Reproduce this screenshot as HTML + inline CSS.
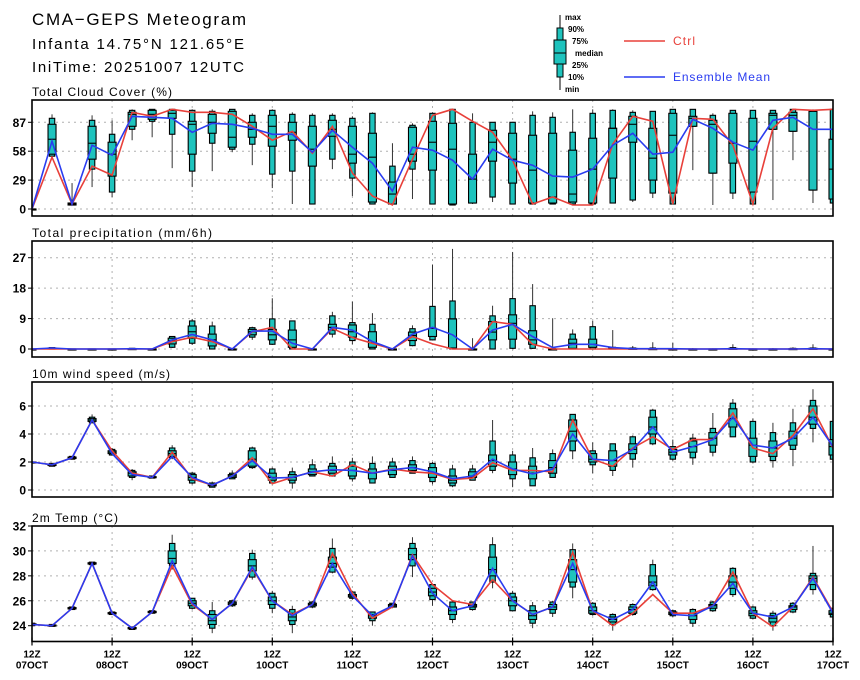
<!DOCTYPE html>
<html><head><meta charset="utf-8">
<style>
html,body{margin:0;padding:0;background:#fff;}
svg{display:block;font-family:"Liberation Sans",sans-serif;}
</style></head>
<body>
<svg id="chart" width="860" height="680" viewBox="0 0 860 680" xmlns="http://www.w3.org/2000/svg">
<g>
<text x="32" y="25" font-size="17" fill="#000" textLength="214" lengthAdjust="spacing">CMA−GEPS Meteogram</text>
<text x="32" y="49" font-size="15" fill="#000" textLength="212" lengthAdjust="spacing">Infanta 14.75°N 121.65°E</text>
<text x="32" y="72" font-size="15" fill="#000" textLength="212" lengthAdjust="spacing">IniTime: 20251007 12UTC</text>
</g>
<g font-size="8" font-weight="bold" fill="#000">
<line x1="560" y1="15" x2="560" y2="90" stroke="#000" stroke-width="1"/>
<rect x="557" y="28" width="6" height="49" fill="#1ec3bd" stroke="#000" stroke-width="1"/>
<rect x="554" y="40" width="12" height="24" fill="#1ec3bd" stroke="#000" stroke-width="1"/>
<line x1="554" y1="53" x2="566" y2="53" stroke="#000"/>
<text x="565" y="20">max</text><text x="568" y="32">90%</text><text x="572" y="44">75%</text>
<text x="575" y="56">median</text><text x="572" y="68">25%</text><text x="568" y="80">10%</text><text x="565" y="92">min</text>
</g>
<g font-size="12">
<line x1="624" y1="41" x2="665" y2="41" stroke="#e8403a" stroke-width="1.5"/>
<text x="673" y="45" fill="#e8403a" textLength="22" lengthAdjust="spacing">Ctrl</text>
<line x1="624" y1="77" x2="665" y2="77" stroke="#2a3cf0" stroke-width="1.5"/>
<text x="673" y="81" fill="#2a3cf0" textLength="97" lengthAdjust="spacing">Ensemble Mean</text>
</g>
</svg>
<script>
const days = ["07OCT","08OCT","09OCT","10OCT","11OCT","12OCT","13OCT","14OCT","15OCT","16OCT","17OCT"];

const cloudTicks = [0,29,58,87];
const cloudCtrl = [0,52,5,43,34,97,93,100,97,97,95,83,69,78,56,83,36,13,4,50,94,100,88,77,49,5,12,4,4,65,93,88,5,91,90,64,5,81,100,99,100];
const cloudMean = [0,68,5,64,54,93,92,91,77,86,85,81,75,75,57,79,62,46,18,62,59,49,30,60,49,44,33,32,40,64,76,55,57,90,81,67,59,89,92,80,80];
const cloudBox = [[0,0,0,0,0,0,0],[53,53,55,70,85,91,95],[4,4,4,5,6,6,26],[22,40,50,66,83,89,94],[12,17,33,55,67,75,89],[69,80,83,95,97,99,100],[72,88,90,95,99,100,100],[41,75,91,96,99,100,100],[22,38,55,85,88,99,100],[38,66,76,87,95,98,100],[57,60,62,72,98,100,100],[44,65,72,80,87,94,96],[21,35,63,83,94,99,100],[5,38,69,77,87,95,97],[5,5,43,60,83,94,96],[40,50,73,80,89,94,96],[13,31,46,55,83,91,93],[5,5,7,52,76,96,97],[5,5,5,15,27,43,66],[10,40,48,55,82,84,86],[5,5,39,67,88,96,97],[4,4,5,60,86,100,100],[5,6,6,30,55,87,96],[7,12,48,67,79,87,87],[5,5,26,50,76,87,87],[5,5,6,39,74,94,98],[5,5,6,12,76,92,97],[5,5,7,15,59,77,100],[5,5,6,40,71,96,100],[6,6,31,81,81,99,100],[7,9,67,85,93,97,99],[11,16,29,51,81,98,98],[5,5,16,74,96,100,100],[39,83,83,91,93,100,100],[4,36,36,85,89,94,96],[10,16,46,66,96,99,99],[5,5,17,68,91,99,99],[9,80,80,94,96,99,99],[49,78,78,94,97,100,100],[6,19,19,98,98,99,100],[5,6,10,40,70,100,100]];

const precTicks = [0,9,18,27];
const precCtrl = [0,0,0,0,0,0,0,2.2,3.5,2.2,0,5.1,6.4,0,0,6.1,3.4,1.7,0,3.7,1.5,0,0,8.1,7.3,1.4,0,0,0,0,0,0,0,0,0,0,0,0,0,0,0];
const precMean = [0,0.3,0,0,0,0.1,0,2.7,4.3,2.7,0,5.3,5.3,1.7,0,6.4,5.6,2.2,0,4.4,6.4,4.2,0,5.6,7.3,3.7,0.4,1.4,1.4,0.4,0.1,0.1,0.1,0,0,0.1,0,0,0,0.1,0];
const precBox = [[0,0,0,0,0,0,0],[0,0,0,0.2,0.3,0.4,0.5],[0,0,0,0,0,0,0],[0,0,0,0,0,0,0],[0,0,0,0,0,0,0],[0,0,0,0,0.1,0.2,0.3],[0,0,0,0,0,0,0],[0.3,0.5,1.5,2.5,3.2,3.7,3.8],[1.2,1.7,3.2,5.1,6.8,8.3,8.9],[0,0,0.9,2.7,4.4,6.8,8.1],[0,0,0,0,0,0,0],[2.7,3.5,4.2,5.1,5.8,6.3,6.6],[1.2,1.4,2.7,4.2,5.8,8.9,15],[0,0,0.5,2.7,5.6,8.3,8.3],[0,0,0,0,0,0,0],[3.4,4.4,5.6,6.4,7.3,9.8,11],[1.4,2.5,3.5,5.1,7.1,7.8,14],[0,0,0.5,1.9,5.1,7.3,10.6],[0,0,0,0,0,0,0],[0.8,1,2.5,4,5,6,7],[2.5,2.7,3.7,6.1,6.1,12.6,25],[0,0,0.3,8.9,8.9,14.2,29.6],[0,0,0,0,0,0,3.2],[0,0,2.7,5,8.1,9.8,12.8],[0,0.2,2.9,7.6,10.1,14.9,28.7],[0,0.2,1.4,2.7,5.4,12.8,19.2],[0,0,0,0,0,0.1,9.1],[0,0,0.2,1.7,2.9,4.4,5.8],[0,0,0.5,1.4,2.9,6.6,8.3],[0,0,0,0.2,0.4,0.5,5.6],[0,0,0,0.1,0.2,0.3,0.9],[0,0,0,0,0.1,0.3,2],[0,0,0,0,0,0.1,1.9],[0,0,0,0,0,0,0.3],[0,0,0,0,0,0,0.2],[0,0,0,0,0.2,0.4,1.4],[0,0,0,0,0,0,0.2],[0,0,0,0,0,0,0.3],[0,0,0,0,0.1,0.2,0.5],[0,0,0,0,0.2,0.3,1.4],[0,0,0,0,0,0,0]];

const windTicks = [0,2,4,6];
const windCtrl = [2.0,1.8,2.3,5.0,2.8,1.2,0.9,2.7,0.8,0.35,1.0,2.3,0.45,0.9,1.3,1.0,1.8,1.2,1.5,1.3,1.2,0.75,0.85,1.95,1.4,1.4,1.3,5.0,2.2,1.7,3.0,3.8,2.9,3.6,3.6,5.5,3.0,2.6,3.9,5.8,3.0];
const windMean = [2.0,1.8,2.3,5.0,2.6,1.1,0.9,2.4,0.9,0.35,1.0,2.1,0.85,0.9,1.3,1.45,1.4,1.2,1.45,1.6,1.3,0.8,1.0,2.2,1.5,1.15,1.5,4.0,2.2,2.1,2.9,4.5,2.7,3.1,3.6,5.2,3.2,3.0,3.7,5.2,3.1];
const windBox = [[2,2,2,2,2,2,2],[1.7,1.7,1.75,1.8,1.85,1.9,1.9],[2.2,2.2,2.25,2.3,2.35,2.4,2.4],[4.8,4.8,4.9,5.0,5.1,5.2,5.4],[2.5,2.5,2.6,2.7,2.8,2.9,3.0],[0.7,0.9,1.0,1.2,1.3,1.4,1.5],[0.85,0.85,0.9,0.9,0.95,1.0,1.0],[2.2,2.3,2.4,2.6,2.8,3.0,3.2],[0.4,0.5,0.7,0.9,1.1,1.2,1.3],[0.2,0.2,0.3,0.35,0.4,0.5,0.6],[0.8,0.8,0.9,1.0,1.1,1.2,1.4],[1.5,1.6,1.7,2.2,2.8,3.0,3.1],[0.4,0.5,0.7,0.9,1.2,1.5,1.6],[0.1,0.5,0.7,0.9,1.1,1.3,1.6],[1.0,1.0,1.1,1.3,1.5,1.8,2.2],[1.0,1.0,1.2,1.4,1.7,1.9,2.4],[0.6,0.8,1.0,1.4,1.7,2.0,2.3],[0.5,0.5,0.8,1.2,1.5,1.9,2.4],[0.9,0.9,1.1,1.4,1.7,2.0,2.3],[1.2,1.2,1.4,1.6,1.8,2.1,2.4],[0.4,0.6,0.9,1.2,1.6,1.9,2.0],[0.2,0.3,0.5,0.7,1.0,1.5,1.8],[0.7,0.7,0.9,1.0,1.3,1.5,1.8],[1.2,1.4,1.7,2.1,2.5,3.5,5.0],[0.2,0.8,1.1,1.5,2.0,2.5,2.8],[0.3,0.3,0.8,1.2,1.7,2.3,3.0],[0.9,0.9,1.2,1.6,2.1,2.6,2.9],[2.2,2.8,3.5,4.2,5.0,5.4,5.4],[1.2,1.8,2.0,2.2,2.6,2.8,3.4],[1.0,1.4,1.7,2.1,2.8,3.3,3.3],[1.6,2.2,2.6,2.9,3.3,3.8,3.9],[3.2,3.3,4.0,4.5,5.2,5.7,5.8],[2.1,2.2,2.5,2.7,2.9,3.1,3.6],[1.8,2.3,2.7,3.1,3.5,3.7,4.0],[2.4,2.7,3.2,3.7,4.1,4.4,5.5],[3.8,3.8,4.5,5.1,5.8,6.2,6.5],[1.9,2.0,2.4,3.2,3.7,4.9,5.1],[1.6,2.1,2.4,3.0,3.5,4.1,4.8],[1.7,2.9,3.2,3.7,4.2,4.8,5.8],[3.4,4.4,4.7,5.2,6.0,6.4,7.2],[2.2,2.2,2.5,3.1,3.6,4.9,4.9]];

const tempTicks = [24,26,28,30,32];
const tempCtrl = [24.1,24.0,25.4,29.0,25.0,23.8,25.1,28.8,25.7,24.5,25.8,28.6,26.0,24.9,25.7,29.8,26.6,24.6,25.5,29.7,27.3,26.0,25.7,27.7,26.0,24.9,25.5,29.9,25.2,24.0,25.0,26.5,25.0,25.0,25.6,28.3,25.0,23.9,25.5,27.9,25.1];
const tempMean = [24.1,24.0,25.4,29.0,25.0,23.8,25.1,29.2,25.8,24.5,25.8,28.7,26.0,24.8,25.7,29.0,26.4,24.8,25.6,29.6,26.6,25.2,25.6,28.6,26.0,24.9,25.5,29.0,25.2,24.5,25.3,27.5,24.9,24.8,25.6,27.4,25.0,24.7,25.5,27.8,25.0];
const tempBox = [[24.0,24.0,24.05,24.1,24.15,24.2,24.2],[23.9,23.95,24,24,24.05,24.1,24.1],[25.3,25.3,25.35,25.4,25.45,25.5,25.5],[28.9,28.9,28.95,29,29.05,29.1,29.1],[24.9,24.9,24.95,25,25.05,25.1,25.1],[23.7,23.7,23.75,23.8,23.85,23.9,23.9],[25.0,25.0,25.05,25.1,25.15,25.2,25.2],[28.5,28.8,29.0,29.4,30.0,30.6,31.3],[25.3,25.4,25.6,25.8,26.0,26.2,26.2],[23.4,23.8,24.1,24.4,24.9,25.2,25.9],[25.5,25.6,25.7,25.8,25.9,26.0,26.1],[27.7,27.9,28.4,28.8,29.3,29.8,30.1],[25.0,25.4,25.7,26.0,26.3,26.6,26.8],[23.4,24.1,24.4,24.7,25.0,25.3,25.6],[25.4,25.5,25.6,25.7,25.8,25.9,26.0],[28.2,28.3,28.7,29.0,29.5,30.2,31.0],[26.1,26.2,26.3,26.4,26.5,26.7,26.8],[24.0,24.4,24.6,24.8,24.9,25.1,25.1],[25.4,25.5,25.5,25.6,25.7,25.8,25.8],[27.9,28.8,29.3,29.7,30.2,30.6,31.1],[25.6,26.1,26.4,26.7,27.0,27.3,27.3],[24.2,24.5,24.9,25.2,25.5,25.9,26.0],[25.2,25.3,25.5,25.6,25.7,25.9,25.9],[27.0,27.5,28.0,28.5,29.5,30.5,31.1],[25.2,25.2,25.6,26.0,26.3,26.6,26.8],[23.8,24.2,24.5,24.8,25.2,25.6,25.9],[24.7,25.0,25.3,25.5,25.7,25.9,26.0],[26.2,27.1,27.5,28.5,29.3,30.1,30.6],[24.8,24.9,25.0,25.2,25.5,25.8,25.9],[23.6,24.1,24.3,24.5,24.7,24.9,25.0],[24.8,24.9,25.0,25.3,25.5,25.7,25.8],[26.8,26.9,27.2,27.5,28.0,28.9,29.3],[24.7,24.8,24.9,25.0,25.1,25.2,25.3],[23.9,24.2,24.5,24.8,25.0,25.3,25.4],[25.1,25.2,25.4,25.6,25.7,25.9,26.0],[26.3,26.5,27.0,27.5,28.0,28.6,28.7],[24.5,24.6,24.8,25.0,25.2,25.5,25.6],[23.6,24.0,24.3,24.6,24.8,25.0,25.2],[25.0,25.1,25.3,25.5,25.6,25.8,25.9],[26.5,26.9,27.3,27.8,28.0,28.2,30.4],[24.6,24.7,24.9,25.0,25.2,25.4,25.5]];

const NS = "http://www.w3.org/2000/svg";
const svg = document.getElementById("chart");
const X0 = 32, X1 = 833, NSTEP = 40;
function xAt(i){ return X0 + (X1 - X0) * i / NSTEP; }
function mk(tag, attrs, parent){
  const e = document.createElementNS(NS, tag);
  for (const k in attrs) e.setAttribute(k, attrs[k]);
  (parent || svg).appendChild(e);
  return e;
}

const panels = [
  {key:"cloud", title:"Total Cloud Cover (%)", tl:140, top:100, bottom:216, v0:0, y0:209, v1:87, y1:122.3, ticks:cloudTicks, ctrl:cloudCtrl, mean:cloudMean, box:cloudBox},
  {key:"precip", title:"Total precipitation (mm/6h)", tl:180, top:241, bottom:357, v0:0, y0:349, v1:27, y1:257.7, ticks:precTicks, ctrl:precCtrl, mean:precMean, box:precBox},
  {key:"wind", title:"10m wind speed (m/s)", tl:138, top:382, bottom:497, v0:0, y0:490, v1:6, y1:406, ticks:windTicks, ctrl:windCtrl, mean:windMean, box:windBox},
  {key:"temp", title:"2m Temp (°C)", tl:86, top:526, bottom:641.5, v0:24, y0:625.7, v1:32, y1:526, ticks:tempTicks, ctrl:tempCtrl, mean:tempMean, box:tempBox}
];

panels.forEach(function(p, pi){
  const yAt = function(v){ return p.y0 + (v - p.v0) * (p.y1 - p.y0) / (p.v1 - p.v0); };
  const g = mk("g", {});
  
  
  const t = mk("text", {x:32, y:p.top - 4, "font-size":12, fill:"#000", textLength:p.tl, lengthAdjust:"spacing"}, g);
  
  
  t.textContent = p.title;
  const cid = "clip" + pi;
  const cp = mk("clipPath", {id:cid}, g);
  mk("rect", {x:X0, y:p.top, width:X1 - X0, height:p.bottom - p.top}, cp);
  const grid = mk("g", {stroke:"#b0b0b0", "stroke-width":1, "stroke-dasharray":"2,4"}, g);
  
  
  p.ticks.forEach(function(v){
    const y = yAt(v);
    if (y > p.top + 2 && y < p.bottom - 1) mk("line", {x1:X0, x2:X1, y1:y, y2:y}, grid);
  });
  for (let d = 1; d < days.length - 1; d++) {
    const x = xAt(d * 4);
    mk("line", {x1:x, x2:x, y1:p.top, y2:p.bottom}, grid);
  }
  p.ticks.forEach(function(v){
    const y = yAt(v);
    mk("line", {x1:X0 - 4, x2:X0, y1:y, y2:y, stroke:"#000"}, g);
    const lb = mk("text", {x:X0 - 6, y:y + 4.5, "font-size":12, "font-weight":"bold", "text-anchor":"end", fill:"#000"}, g);
    
    
    lb.textContent = v;
  });
  const marks = mk("g", {"clip-path":"url(#" + cid + ")"}, g);
  p.box.forEach(function(b, i){
    const x = xAt(i);
    const bg = mk("g", {}, marks);
    
    
    mk("line", {x1:x, x2:x, y1:yAt(b[0]), y2:yAt(b[6]), stroke:"#333", "stroke-width":1}, bg);
    const ya = yAt(b[5]), yb = yAt(b[1]);
    mk("rect", {x:x - 2.7, y:Math.min(ya, yb), width:5.4, height:Math.max(Math.abs(yb - ya), 1), fill:"#1ec3bd", stroke:"#000", "stroke-width":1.1}, bg);
    const yc = yAt(b[4]), yd = yAt(b[2]);
    mk("rect", {x:x - 4, y:Math.min(yc, yd), width:8, height:Math.max(Math.abs(yd - yc), 1), fill:"#1ec3bd", stroke:"#000", "stroke-width":1.1}, bg);
    mk("line", {x1:x - 4, x2:x + 4, y1:yAt(b[3]), y2:yAt(b[3]), stroke:"#000", "stroke-width":1.1}, bg);
  });
  const ctrlPts = p.ctrl.map(function(v, i){ return xAt(i).toFixed(1) + "," + yAt(v).toFixed(1); }).join(" ");
  const cl = mk("polyline", {points:ctrlPts, fill:"none", stroke:"#e8403a", "stroke-width":1.6}, marks);
  
  
  const meanPts = p.mean.map(function(v, i){ return xAt(i).toFixed(1) + "," + yAt(v).toFixed(1); }).join(" ");
  const ml = mk("polyline", {points:meanPts, fill:"none", stroke:"#2a3cf0", "stroke-width":1.6}, marks);
  
  
  const fr = mk("rect", {x:X0, y:p.top, width:X1 - X0, height:p.bottom - p.top, fill:"none", stroke:"#000", "stroke-width":1.6}, g);
  
  
  if (pi === panels.length - 1) {
    days.forEach(function(d, di){
      const x = xAt(di * 4);
      mk("line", {x1:x, x2:x, y1:p.bottom - 4, y2:p.bottom + 4, stroke:"#000", "stroke-width":1.2}, g);
      const t1 = mk("text", {x:x, y:p.bottom + 16, "font-size":10, "font-weight":"bold", "text-anchor":"middle", fill:"#000"}, g);
      
      
      t1.textContent = "12Z";
      const t2 = mk("text", {x:x, y:p.bottom + 27, "font-size":10, "font-weight":"bold", "text-anchor":"middle", fill:"#000"}, g);
      
      
      t2.textContent = d;
    });
  }
});
</script>
</body></html>
